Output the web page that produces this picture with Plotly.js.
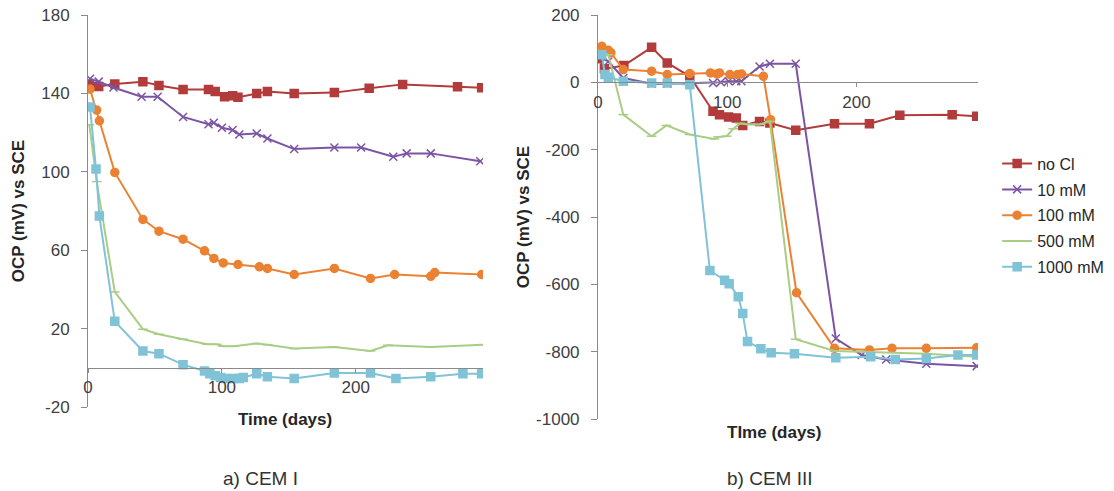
<!DOCTYPE html>
<html><head><meta charset="utf-8">
<script src="https://cdn.plot.ly/plotly-3.0.1.min.js"></script>
<style>html,body{margin:0;padding:0;background:#fff}#chart{width:1114px;height:491px}</style>
</head><body><div id="chart"></div>
<script>
// Series names
const seriesNames = ['no Cl', '10 mM', '100 mM', '500 mM', '1000 mM'];

// ---- a) CEM I ----
const cem1_noCl_x = [1, 8, 20, 41, 53, 71, 90, 95, 102, 108, 112, 126, 134, 154, 184, 210, 235, 276, 294];
const cem1_noCl_y = [144.5, 143.5, 144.8, 146, 144, 142, 142, 141, 138.3, 138.8, 138, 140, 141, 140, 140.4, 142.6, 144.6, 143.4, 142.9];
const cem1_10_x = [1.5, 8, 19, 40, 52, 71, 90, 94, 100, 108, 113, 126, 134, 154, 184, 204, 228, 238, 256, 293];
const cem1_10_y = [147.5, 146, 143, 138.3, 138.3, 128, 124.3, 125, 122.5, 121.3, 119, 119.5, 117, 111.6, 112.4, 112.4, 107.7, 109.4, 109.4, 105.4];
const cem1_100_x = [1.5, 6.5, 8.5, 20, 41, 53, 71, 87, 94, 101, 112, 128, 134, 154, 184, 211, 229, 256, 259, 294];
const cem1_100_y = [142.2, 131.5, 126, 99.7, 75.7, 69.7, 65.6, 59.7, 55.8, 53.5, 52.7, 51.5, 50.7, 47.6, 50.7, 45.6, 47.6, 46.7, 48.6, 47.6];
const cem1_500_x = [1, 6.5, 20, 41, 53, 71, 89, 96, 101, 109, 126, 134, 154, 184, 211, 224, 256, 295];
const cem1_500_y = [124, 95, 38.7, 19.7, 17.1, 14.6, 12, 12, 11, 11, 12.4, 11.8, 9.8, 10.6, 8.6, 11.5, 10.6, 11.8];
const cem1_1000_x = [1.5, 6, 8.5, 20, 41, 53, 71, 87, 91, 95, 99, 103, 109, 113, 116, 126, 134, 154, 184, 211, 230, 256, 280, 294];
const cem1_1000_y = [133, 101.4, 77.4, 23.7, 8.6, 7.2, 1.6, -1.6, -3, -4, -5, -5.5, -5.5, -5.5, -5, -3, -4.6, -5.5, -2.6, -2.6, -5.5, -4.6, -3, -3];

// ---- b) CEM III ----
const cem3_noCl_x = [1, 5, 20, 41.5, 53.6, 71, 89, 94, 101, 107, 112, 125, 133, 153, 183, 210, 233.5, 274, 293];
const cem3_noCl_y = [70, 40, 50, 104, 57.6, 18, -86, -96, -103, -106, -128, -116, -121, -142, -123, -123, -98, -96, -101];
const cem3_10_x = [1, 8, 19.6, 41.5, 53.6, 71, 89, 95, 101, 107, 111, 125, 133, 153, 184, 204, 223, 254, 293];
const cem3_10_y = [75, 62, 13, -4, -4, -2, -2, 0, 3, 3, 3, 47, 55, 55, -761, -810, -823, -836, -843];
const cem3_100_x = [3, 8, 10, 19.6, 41.5, 53.6, 71, 87, 92, 94, 102, 108, 111, 128, 133.5, 153.6, 183, 210, 227.5, 254, 293];
const cem3_100_y = [107, 95, 88, 38, 33, 23, 26, 28, 25, 28, 23, 23, 25, 18, -111, -625, -790, -795, -790, -790, -788];
const cem3_500_x = [2, 8, 19.6, 41.5, 53, 71, 90, 93, 99.5, 104.7, 110, 117.6, 125, 133, 153, 183, 254, 293];
const cem3_500_y = [90, 82, -96, -160, -128, -155, -168, -162, -160, -138, -122, -125, -125, -116, -763, -798, -806, -815];
const cem3_1000_x = [3, 5.4, 8, 19.6, 41.5, 53.6, 71, 86.6, 98, 101.5, 108.5, 112, 115.7, 126, 134, 152, 184, 211, 230, 254, 278.5, 293];
const cem3_1000_y = [82, 23, 15, 3, -2, -2, -7, -559, -588, -598, -637, -687, -770, -791, -803, -806, -818, -815, -823, -820, -810, -810];

// Tick values and labels
const xTicks = [0, 100, 200];
const xTickText = ['0', '100', '200'];
const yTicks1 = [-20, 20, 60, 100, 140, 180];
const yTickText1 = ['-20', '20', '60', '100', '140', '180'];
const yTicks3 = [-1000, -800, -600, -400, -200, 0, 200];
const yTickText3 = ['-1000', '-800', '-600', '-400', '-200', '0', '200'];

// Styles
const colors = ['#B23B3B', '#7B55A3', '#EB8233', '#A9CD85', '#80C3D7'];
const symbols = ['square', 'x-thin-open', 'circle', 'line-ew-open', 'square'];
const msizes = [8, 8, 8, 7, 8];

const data1 = [[cem1_noCl_x, cem1_noCl_y], [cem1_10_x, cem1_10_y], [cem1_100_x, cem1_100_y], [cem1_500_x, cem1_500_y], [cem1_1000_x, cem1_1000_y]];
const data3 = [[cem3_noCl_x, cem3_noCl_y], [cem3_10_x, cem3_10_y], [cem3_100_x, cem3_100_y], [cem3_500_x, cem3_500_y], [cem3_1000_x, cem3_1000_y]];

function mk(d, i, xa, ya, leg) {
  return {
    x: d[0], y: d[1], xaxis: xa, yaxis: ya, type: 'scatter', mode: 'lines+markers',
    name: seriesNames[i], showlegend: leg, legendgroup: 'g' + i,
    line: {color: colors[i], width: 2},
    marker: {symbol: symbols[i], size: msizes[i], color: colors[i], line: {color: colors[i], width: 1.5}}
  };
}
const traces = [];
data1.forEach((d, i) => traces.push(mk(d, i, 'x', 'y', false)));
data3.forEach((d, i) => traces.push(mk(d, i, 'x2', 'y2', true)));

const FAM = 'Liberation Sans, Arial, sans-serif';
const axisCol = '#8a8a8a';
const tickFont = {family: FAM, size: 17, color: '#404040'};
const boldFont = {family: FAM, size: 17, color: '#262626', weight: 'bold'};

// y-domain of left plot (paper fractions)
const y1dom = [0.0297, 1];
const y1pos0 = y1dom[0] + (0 - (-20)) / 200 * (y1dom[1] - y1dom[0]);
const y3dom = [0, 1];
const y3pos0 = y3dom[0] + (0 - (-1000)) / 1200 * (y3dom[1] - y3dom[0]);

const layout = {
  width: 1114, height: 491,
  margin: {l: 88, r: 136, t: 15, b: 72, autoexpand: false},
  paper_bgcolor: '#fff', plot_bgcolor: 'rgba(0,0,0,0)',
  font: tickFont,
  showlegend: true,
  legend: {x: 1.0215, y: 0.674, xanchor: 'left', yanchor: 'top', font: {family: FAM, size: 16, color: '#262626'},
           tracegroupgap: 2, traceorder: 'grouped', itemwidth: 30, bgcolor: 'rgba(0,0,0,0)'},
  xaxis: {domain: [0, 0.4438], range: [0, 295], anchor: 'free', position: y1pos0,
          tickvals: xTicks, ticktext: xTickText, ticks: 'outside', ticklen: 4, tickcolor: axisCol, showline: true, linecolor: axisCol, linewidth: 1,
          showgrid: false, zeroline: false, tickfont: tickFont},
  yaxis: {domain: y1dom, range: [-20, 180], anchor: 'x', tickvals: yTicks1, ticktext: yTickText1, ticks: 'outside', ticklen: 6, tickcolor: axisCol,
          ticklabelstandoff: 8,
          showline: true, linecolor: axisCol, linewidth: 1, showgrid: false, zeroline: false, tickfont: tickFont,
          title: {text: 'OCP (mV) vs SCE', font: boldFont, standoff: 12}},
  xaxis2: {domain: [0.573, 1], range: [0, 294], anchor: 'free', position: y3pos0,
          tickvals: xTicks, ticktext: xTickText, ticks: 'outside', ticklen: 4, tickcolor: axisCol, showline: true, linecolor: axisCol, linewidth: 1,
          showgrid: false, zeroline: false, tickfont: tickFont},
  yaxis2: {domain: y3dom, range: [-1000, 200], anchor: 'x2', tickvals: yTicks3, ticktext: yTickText3, ticks: 'outside', ticklen: 6, tickcolor: axisCol,
          ticklabelstandoff: 8,
          showline: true, linecolor: axisCol, linewidth: 1, showgrid: false, zeroline: false, tickfont: tickFont,
          title: {text: 'OCP (mV) vs SCE', font: boldFont, standoff: 2}},
  annotations: [
    {text: 'Time (days)', xref: 'x', yref: 'paper', x: 147.5, y: y1dom[0], yanchor: 'top', yshift: -1, showarrow: false, font: boldFont},
    {text: 'TIme (days)', xref: 'x2', yref: 'paper', x: 136, y: 0, yanchor: 'top', yshift: -2, showarrow: false, font: boldFont},
    {text: 'a) CEM I', xref: 'x', yref: 'paper', x: 129, y: 0, yanchor: 'middle', yshift: -59, showarrow: false,
     font: {family: FAM, size: 19, color: '#333'}},
    {text: 'b) CEM III', xref: 'x2', yref: 'paper', x: 133, y: 0, yanchor: 'middle', yshift: -59, showarrow: false,
     font: {family: FAM, size: 19, color: '#333'}}
  ]
};

Plotly.newPlot('chart', traces, layout, {displayModeBar: false, staticPlot: true});
</script>
</body></html>
